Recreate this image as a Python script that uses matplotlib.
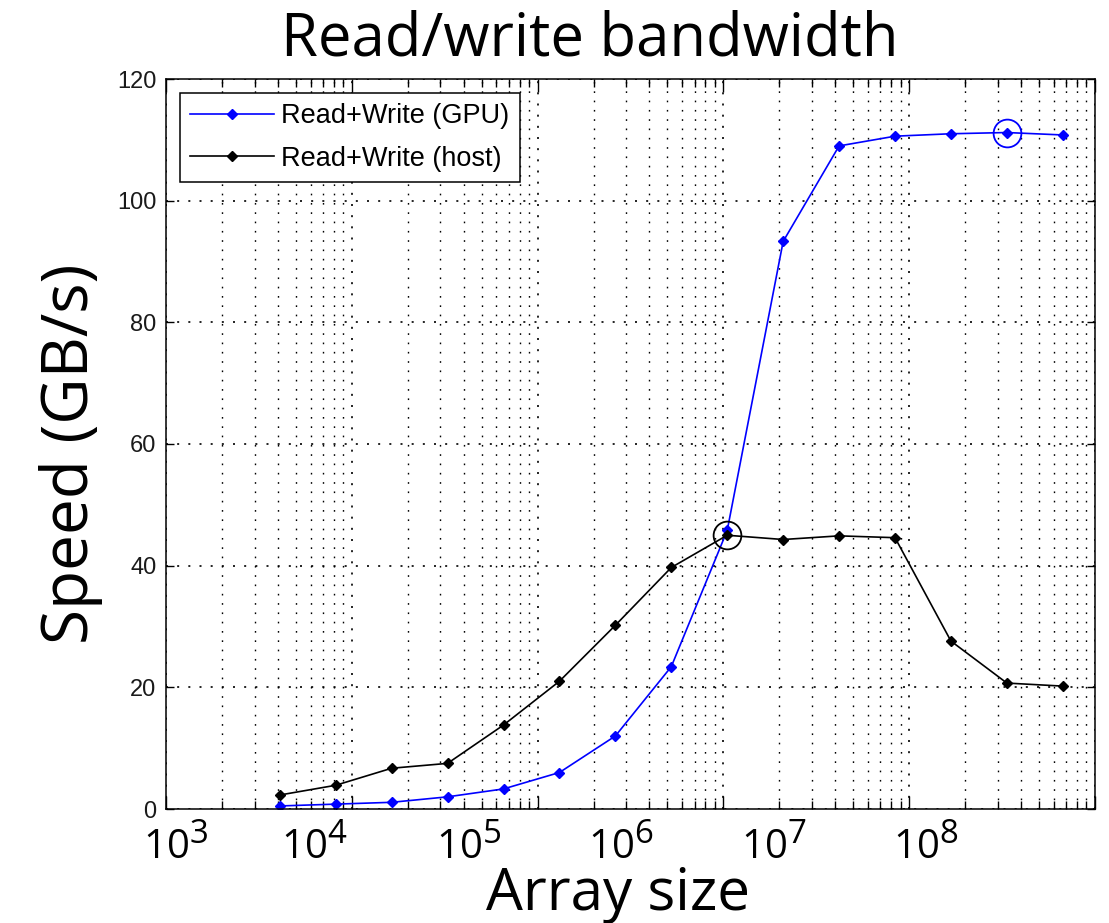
import numpy as np
import matplotlib
matplotlib.use('Agg')
import matplotlib.pyplot as plt
import matplotlib._mathtext as mathtext_internal
from matplotlib.ticker import LogLocator, NullFormatter

# measured array sizes (elements) and bandwidth in GB/s
array_size = [4096, 8192, 16384, 32768, 65536, 131072, 262144, 524288,
              1048576, 2097152, 4194304, 8388608, 16777216, 33554432, 67108864]
gpu_speed = [0.5, 0.8, 1.1, 2.0, 3.3, 6.0, 12.0, 23.4,
             45.8, 93.3, 109.0, 110.6, 111.0, 111.2, 110.8]
host_speed = [2.3, 3.9, 6.7, 7.5, 13.8, 21.0, 30.2, 39.7,
              45.0, 44.3, 44.9, 44.6, 27.6, 20.7, 20.2]

x_labels = [r'$\mathrm{10^{3}}$', r'$\mathrm{10^{4}}$', r'$\mathrm{10^{5}}$',
            r'$\mathrm{10^{6}}$', r'$\mathrm{10^{7}}$', r'$\mathrm{10^{8}}$']
y_ticks = [0, 20, 40, 60, 80, 100, 120]

# where the (hand placed) x labels sit on the log axis
x_label_pos = [10 ** p for p in [3.05, 3.80, 4.63, 5.45, 6.27, 7.09]]

# bigger exponents, as in the original labels
mathtext_internal.SHRINK_FACTOR = 0.82
plt.rcParams['mathtext.fontset'] = 'custom'
plt.rcParams['mathtext.rm'] = 'Open Sans'
plt.rcParams['mathtext.it'] = 'Open Sans:italic'
plt.rcParams['mathtext.bf'] = 'Open Sans:bold'

fig = plt.figure(figsize=(11.09, 9.23), dpi=100)
ax = fig.add_axes([166/1109, 1 - 809/923, (1095 - 166)/1109, (809 - 79)/923])

ax.plot(array_size, gpu_speed, '-D', color='b', lw=1.2, ms=5.5, label='Read+Write (GPU)')
ax.plot(array_size, host_speed, '-D', color='k', lw=1.2, ms=5.5, label='Read+Write (host)')

g = int(np.argmax(gpu_speed))
h = int(np.argmax(host_speed))
ax.plot(array_size[g], gpu_speed[g], 'o', mfc='none', mec='b', ms=20, mew=1.3)
ax.plot(array_size[h], host_speed[h], 'o', mfc='none', mec='k', ms=20, mew=1.3)

ax.set_xscale('log')
ax.set_xlim(1e3, 1e8)
ax.set_ylim(0, 120)
ax.xaxis.set_major_locator(LogLocator(base=10, numticks=20))
ax.xaxis.set_minor_locator(LogLocator(base=10, subs=np.arange(2, 10), numticks=20))
ax.xaxis.set_major_formatter(NullFormatter())
ax.xaxis.set_minor_formatter(NullFormatter())
ax.set_yticks(y_ticks)
ax.set_yticklabels([str(v) for v in y_ticks], family='Liberation Sans', fontsize=17, color='#1a1a1a')

dots = (0, (1.2, 5.5))
ax.grid(True, which='major', ls=dots, color='k', lw=1.2)
ax.grid(True, which='minor', axis='x', ls=dots, color='k', lw=1.0)
ax.tick_params(which='both', direction='in', top=True, right=True, width=1.0)
ax.tick_params(axis='x', which='major', length=9.5)
ax.tick_params(axis='x', which='minor', length=5.5)
ax.tick_params(axis='y', which='major', length=6, pad=7)
for s in ax.spines.values():
    s.set_linewidth(1.1)

sec = ax.secondary_xaxis('bottom')
sec.set_xticks(x_label_pos, labels=x_labels)
sec.tick_params(which='both', length=0, pad=11, labelsize=29)
sec.tick_params(which='minor', labelbottom=False)
sec.spines['bottom'].set_visible(False)

leg = ax.legend(loc='upper left', fancybox=False, edgecolor='k', framealpha=1,
                prop={'family': 'Liberation Sans', 'size': 19.5},
                handlelength=3.1, handletextpad=0.25, labelspacing=0.6,
                borderpad=0.4, borderaxespad=0.5, numpoints=1)
leg.get_frame().set_linewidth(1.1)

fig.text(590/1109, 1 - 56/923, 'Read/write bandwidth', family='Open Sans',
         fontsize=43, ha='center', va='baseline')
fig.text(618/1109, 1 - 910/923, 'Array size', family='Open Sans',
         fontsize=42, ha='center', va='baseline')
fig.text(88/1109, 1 - 454/923, 'Speed (GB/s)', family='Open Sans', fontsize=46,
         rotation=90, rotation_mode='anchor', ha='center', va='baseline')

fig.savefig('out.png', dpi=100)
